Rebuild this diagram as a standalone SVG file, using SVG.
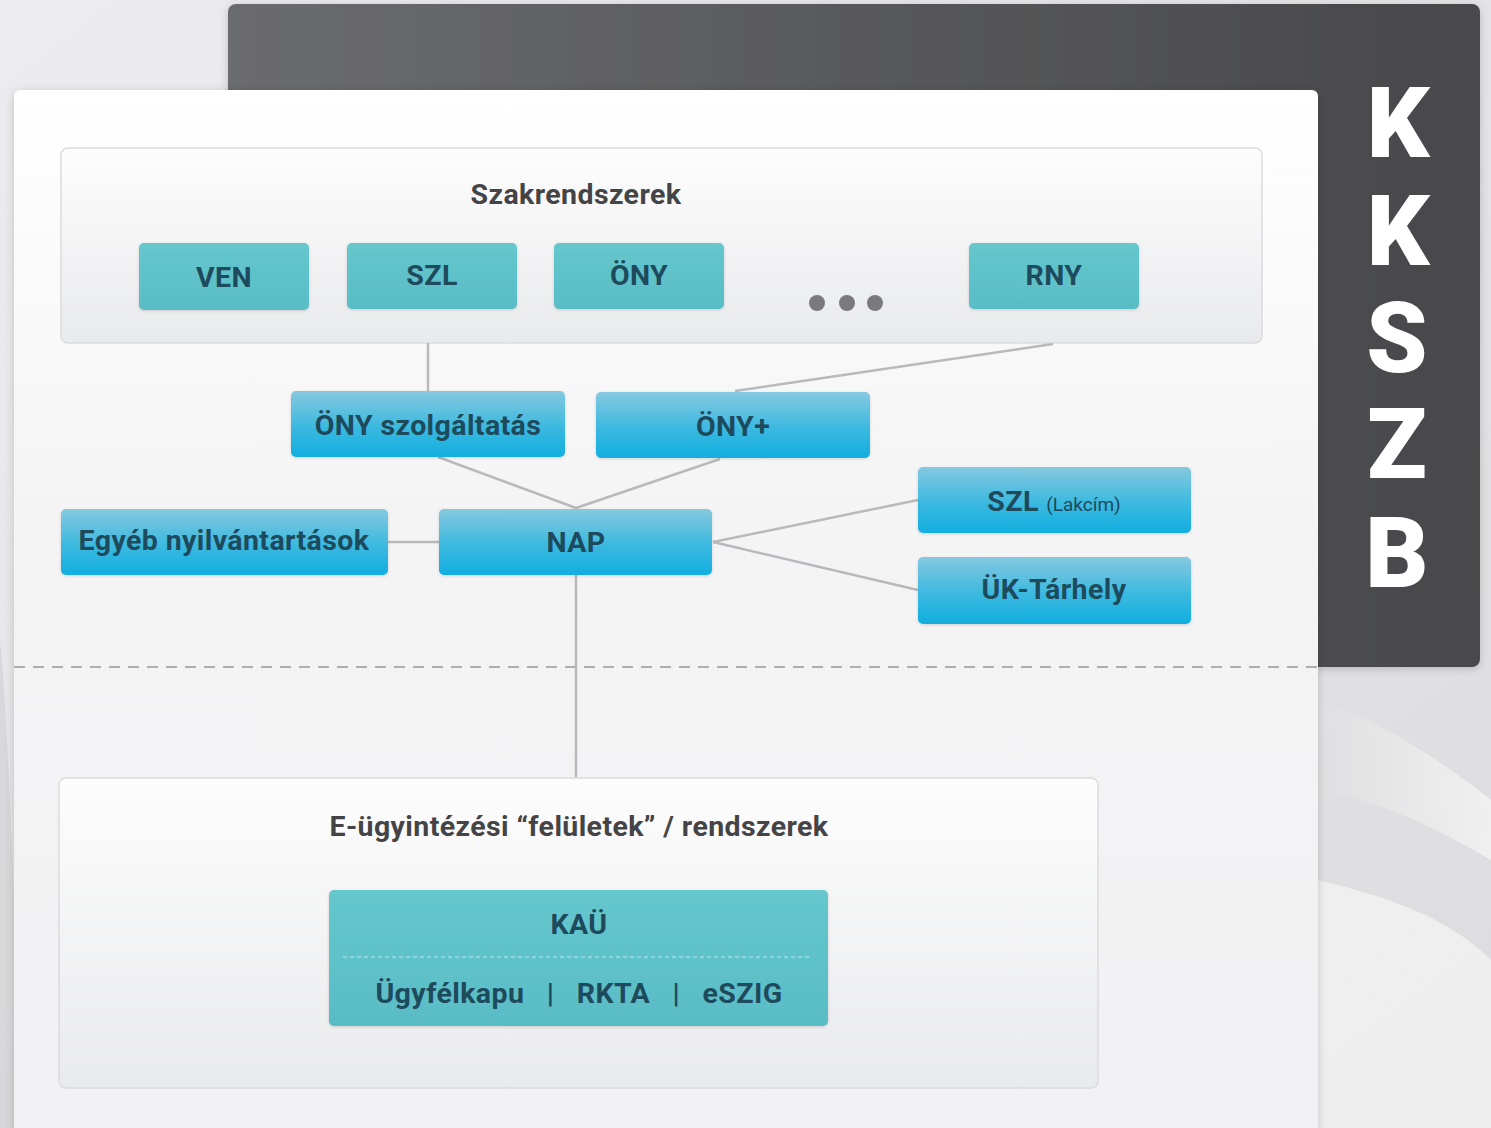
<svg xmlns="http://www.w3.org/2000/svg" width="1491" height="1128" viewBox="0 0 1491 1128">
<defs>
<linearGradient id="bg" x1="0" y1="0" x2="1" y2="1">
<stop offset="0" stop-color="#ececee"/>
<stop offset="0.5" stop-color="#e4e4e6"/>
<stop offset="1" stop-color="#dcdcde"/>
</linearGradient>
<linearGradient id="dark" x1="0" y1="0" x2="1" y2="0">
<stop offset="0" stop-color="#6b6c6f"/>
<stop offset="0.5" stop-color="#58595c"/>
<stop offset="1" stop-color="#48484b"/>
</linearGradient>
<linearGradient id="panel" x1="0" y1="0" x2="0" y2="1">
<stop offset="0" stop-color="#ffffff"/>
<stop offset="0.4" stop-color="#f4f4f5"/>
<stop offset="1" stop-color="#f1f1f3"/>
</linearGradient>
<linearGradient id="group" x1="0" y1="0" x2="0" y2="1">
<stop offset="0" stop-color="#fdfdfd"/>
<stop offset="1" stop-color="#e9eaec"/>
</linearGradient>
<linearGradient id="teal" x1="0" y1="0" x2="0" y2="1">
<stop offset="0" stop-color="#66c7cd"/>
<stop offset="1" stop-color="#59bcc5"/>
</linearGradient>
<linearGradient id="blue" x1="0" y1="0" x2="0" y2="1">
<stop offset="0" stop-color="#86c9e0"/>
<stop offset="0.55" stop-color="#3bb9e0"/>
<stop offset="1" stop-color="#12aedf"/>
</linearGradient>
<linearGradient id="swoosh" x1="0" y1="0" x2="1" y2="0">
<stop offset="0" stop-color="#ffffff" stop-opacity="0"/>
<stop offset="1" stop-color="#ffffff" stop-opacity="0.9"/>
</linearGradient>
<filter id="sh" x="-5%" y="-5%" width="110%" height="110%">
<feDropShadow dx="0" dy="2" stdDeviation="4" flood-color="#000" flood-opacity="0.18"/>
</filter>
<filter id="sh2" x="-5%" y="-10%" width="110%" height="130%">
<feDropShadow dx="0" dy="1" stdDeviation="1.5" flood-color="#000" flood-opacity="0.15"/>
</filter>
</defs>
<style>
.lbl{font-family:Roboto,"Liberation Sans",sans-serif;font-weight:700;text-anchor:middle;letter-spacing:0.4px;}
.box{font-size:28.5px;fill:#1d4a5c;}
.ttl{font-size:28.5px;fill:#444446;}
.kk{font-family:Roboto,"Liberation Sans",sans-serif;font-weight:900;font-size:98px;fill:#ffffff;text-anchor:middle;}
.conn{stroke:#b9b9bb;stroke-width:2.5;fill:none;}
</style>
<rect x="0" y="0" width="1491" height="1128" fill="url(#bg)"/>
<path d="M1318 700 C1380 720 1440 760 1491 800 L1491 860 C1440 830 1380 800 1318 790 Z" fill="url(#swoosh)" opacity="0.6"/>
<path d="M1318 880 C1400 900 1450 920 1491 960 L1491 1128 L1318 1128 Z" fill="#f2f2f3" opacity="0.8"/>
<path d="M0 640 C6 700 10 800 14 900 L14 1128 L0 1128 Z" fill="#cfcfd1" opacity="0.6"/>
<g id="kkszb-panel">
<rect x="228" y="4" width="1252" height="663" rx="8" fill="url(#dark)" filter="url(#sh)"/>
<text class="kk" x="1398" y="157">K</text>
<text class="kk" x="1398" y="265">K</text>
<text class="kk" x="1397" y="372">S</text>
<text class="kk" x="1397" y="478">Z</text>
<text class="kk" x="1397" y="587">B</text>
</g>
<g id="main-panel">
<rect x="14" y="90" width="1304" height="1060" rx="6" fill="url(#panel)" filter="url(#sh)"/>
</g>
<line x1="14" y1="667" x2="1318" y2="667" stroke="#aeaeb0" stroke-width="2" stroke-dasharray="11 8"/>
<g id="szakrendszerek">
<rect x="61" y="148" width="1201" height="195" rx="7" fill="url(#group)" stroke="#dcdcde" stroke-width="1.5"/>
<text class="lbl ttl" x="576" y="204">Szakrendszerek</text>
</g>
<g id="connectors">
<line class="conn" x1="428" y1="343" x2="428" y2="391"/>
<line class="conn" x1="1053" y1="344" x2="735" y2="391"/>
<line class="conn" x1="438" y1="457" x2="576" y2="508"/>
<line class="conn" x1="720" y1="459" x2="576" y2="508"/>
<line class="conn" x1="388" y1="542" x2="439" y2="542"/>
<line class="conn" x1="713" y1="542" x2="918" y2="500"/>
<line class="conn" x1="713" y1="542" x2="918" y2="590"/>
<line class="conn" x1="576" y1="575" x2="576" y2="778"/>
</g>
<g id="ven"><rect x="139" y="243" width="170" height="67" rx="5" fill="url(#teal)" filter="url(#sh2)"/><text class="lbl box" x="224" y="287">VEN</text></g>
<g id="szl"><rect x="347" y="243" width="170" height="66" rx="5" fill="url(#teal)" filter="url(#sh2)"/><text class="lbl box" x="432" y="285">SZL</text></g>
<g id="ony"><rect x="554" y="243" width="170" height="66" rx="5" fill="url(#teal)" filter="url(#sh2)"/><text class="lbl box" x="639" y="285">ÖNY</text></g>
<g id="dots"><circle cx="817" cy="303" r="8" fill="#7a7a7c"/><circle cx="847" cy="303" r="8" fill="#7a7a7c"/><circle cx="875" cy="303" r="8" fill="#7a7a7c"/></g>
<g id="rny"><rect x="969" y="243" width="170" height="66" rx="5" fill="url(#teal)" filter="url(#sh2)"/><text class="lbl box" x="1054" y="285">RNY</text></g>
<g id="ony-szolg"><rect x="291" y="391" width="274" height="66" rx="5" fill="url(#blue)" filter="url(#sh2)"/><text class="lbl box" x="428" y="435">ÖNY szolgáltatás</text></g>
<g id="ony-plus"><rect x="596" y="392" width="274" height="66" rx="5" fill="url(#blue)" filter="url(#sh2)"/><text class="lbl box" x="733" y="436">ÖNY+</text></g>
<g id="egyeb"><rect x="61" y="509" width="327" height="66" rx="5" fill="url(#blue)" filter="url(#sh2)"/><text class="lbl box" x="224" y="550">Egyéb nyilvántartások</text></g>
<g id="nap"><rect x="439" y="509" width="273" height="66" rx="5" fill="url(#blue)" filter="url(#sh2)"/><text class="lbl box" x="576" y="552">NAP</text></g>
<g id="szl-lakcim"><rect x="918" y="467" width="273" height="66" rx="5" fill="url(#blue)" filter="url(#sh2)"/><text class="lbl box" x="1054" y="511">SZL <tspan font-size="19" font-weight="400" letter-spacing="0">(Lakcím)</tspan></text></g>
<g id="uk-tarhely"><rect x="918" y="557" width="273" height="67" rx="5" fill="url(#blue)" filter="url(#sh2)"/><text class="lbl box" x="1054" y="599">ÜK-Tárhely</text></g>
<g id="e-ugyintezes">
<rect x="59" y="778" width="1039" height="310" rx="7" fill="url(#group)" stroke="#dcdcde" stroke-width="1.5"/>
<text class="lbl ttl" x="579" y="836">E-ügyintézési “felületek” / rendszerek</text>
</g>
<g id="kau">
<rect x="329" y="890" width="499" height="136" rx="5" fill="url(#teal)" filter="url(#sh2)"/>
<line x1="343" y1="957" x2="810" y2="957" stroke="#9fdde1" stroke-width="1.5" stroke-dasharray="4 3"/>
<text class="lbl box" x="579" y="934">KAÜ</text>
<text class="lbl box" x="579" y="1003" xml:space="preserve">Ügyfélkapu   |   RKTA   |   eSZIG</text>
</g>
</svg>
